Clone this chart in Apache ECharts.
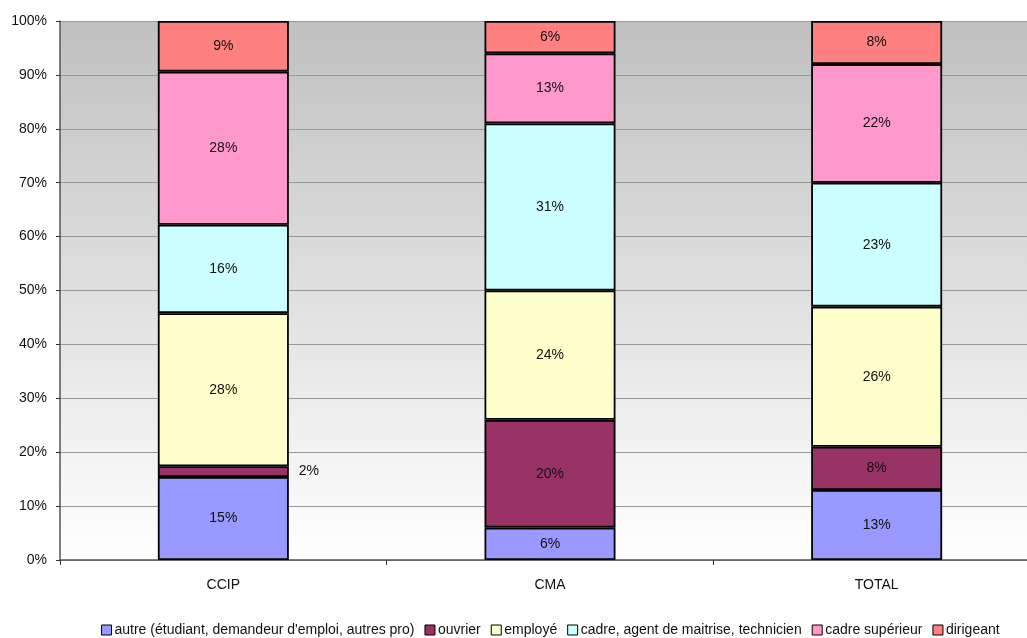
<!DOCTYPE html>
<html>
<head>
<meta charset="utf-8">
<script src="https://cdn.jsdelivr.net/npm/echarts@6/dist/echarts.min.js"></script>
<style>
  html, body { margin: 0; padding: 0; background: #fff; overflow: hidden; }
  /* the plot area runs past the right edge of the picture, as in the original */
  #chart { width: 1040px; height: 638px; }
</style>
</head>
<body>
<div id="chart"></div>
<script>
// categories and series (percent of each column)
const categories = ['CCIP', 'CMA', 'TOTAL'];
const seriesNames = [
  "autre (étudiant, demandeur d'emploi, autres pro)",
  'ouvrier',
  'employé',
  'cadre, agent de maitrise, technicien',
  'cadre supérieur',
  'dirigeant'
];
const autre = [15.4, 6, 13];
const ouvrier = [2.0, 20, 8];
const employe = [28.4, 24, 26];
const cadre = [16.4, 31, 23];
const cadreSup = [28.4, 13, 22];
const dirigeant = [9.4, 6, 8];
const yTicks = [0, 10, 20, 30, 40, 50, 60, 70, 80, 90, 100];

const seriesValues = [autre, ouvrier, employe, cadre, cadreSup, dirigeant];
const colors = ['#9999FF', '#993366', '#FFFFCC', '#CCFFFF', '#FF99CC', '#FF8080'];

const chart = echarts.init(document.getElementById('chart'));

const option = {
  animation: false,
  textStyle: { fontFamily: 'Liberation Sans, Arial, sans-serif' },
  color: colors,
  grid: {
    left: 60,
    right: 0,
    top: 21,
    bottom: 78,
    show: true,
    borderWidth: 0,
    backgroundColor: new echarts.graphic.LinearGradient(0, 0, 0, 1, [
      { offset: 0, color: '#C0C0C0' },
      { offset: 1, color: '#FFFFFF' }
    ])
  },
  legend: {
    left: 96,
    top: 618,
    icon: 'rect',
    itemWidth: 10,
    itemHeight: 10,
    itemGap: 10,
    textStyle: { fontSize: 14, color: '#111', padding: [0, 0, 0, -2] },
    itemStyle: { borderColor: '#000', borderWidth: 1 },
    data: seriesNames
  },
  xAxis: {
    type: 'category',
    data: categories,
    boundaryGap: true,
    axisLine: { lineStyle: { color: '#555', width: 1.5 } },
    axisTick: { show: true, length: 5, lineStyle: { color: '#333' } },
    axisLabel: { color: '#111', fontSize: 14, margin: 18 },
    splitLine: { show: false }
  },
  yAxis: {
    type: 'value',
    min: yTicks[0],
    max: yTicks[yTicks.length - 1],
    interval: 10,
    axisLine: { show: true, lineStyle: { color: '#555', width: 1.5 } },
    axisTick: { show: true, length: 4, lineStyle: { color: '#333' } },
    axisLabel: { color: '#111', fontSize: 14, margin: 13, formatter: '{value}%' },
    splitLine: { show: true, lineStyle: { color: '#999', width: 1 } }
  },
  series: seriesNames.map((name, i) => ({
    name: name,
    type: 'bar',
    stack: 'total',
    barWidth: 131,
    itemStyle: { borderColor: '#000', borderWidth: 1.8 },
    label: {
      show: true,
      position: 'inside',
      color: '#111',
      fontSize: 14,
      formatter: (p) => Math.round(p.value) + '%'
    },
    data: seriesValues[i].map((v) => v < 5
      ? { value: v, label: { position: 'right', distance: 10 } }
      : v)
  }))
};

chart.setOption(option);
</script>
</body>
</html>
